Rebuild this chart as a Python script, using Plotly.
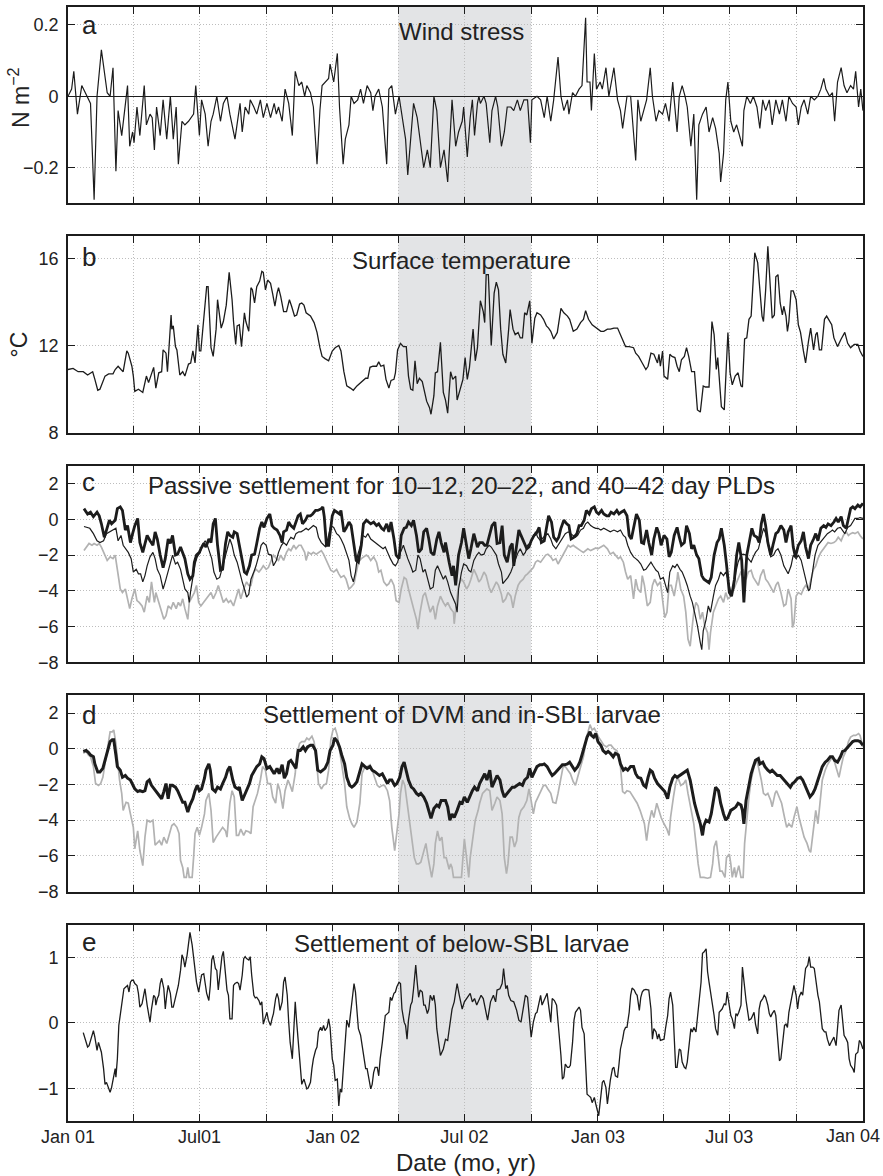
import pandas as pd
import plotly.graph_objects as go
from plotly.subplots import make_subplots

START = pd.Timestamp("2001-01-01")

# ---- data: (day since 1 Jan 2001, value) ----
wind_stress = [(0,0.0),(5,0.02),(8,0.07),(13,-0.05),(19,0.03),(26,0.0),(31,-0.02),(36,-0.29),(40,0.0),(46,0.13),(51,0.05),(54,0.01),(58,0.0),(62,0.08),(66,-0.21),(69,-0.04),(74,-0.11),(79,-0.01),(82,0.03),(85,-0.14),(89,-0.10),(91,-0.13),(95,-0.03),(99,-0.11),(105,0.03),(108,-0.08),(113,-0.05),(116,-0.06),(119,-0.15),(122,-0.03),(127,-0.11),(131,-0.01),(136,-0.12),(141,0.0),(145,-0.12),(149,-0.03),(152,-0.19),(157,-0.07),(161,-0.08),(166,-0.07),(169,-0.06),(173,-0.05),(176,0.03),(181,-0.11),(184,-0.01),(189,-0.05),(193,-0.14),(197,-0.07),(200,-0.05),(205,0.0),(210,-0.07),(214,-0.02),(219,0.0),(223,-0.05),(230,-0.12),(235,-0.04),(237,-0.02),(240,-0.10),(244,-0.03),(249,-0.05),(251,-0.01),(256,-0.03),(260,-0.05),(265,-0.01),(269,-0.06),(274,-0.02),(279,-0.06),(284,-0.02),(287,-0.05),(290,-0.03),(295,-0.07),(299,0.02),(304,-0.02),(309,-0.11),(313,0.07),(318,0.03),(322,0.04),(326,0.0),(329,0.03),(334,0.01),(338,-0.03),(343,-0.19),(347,-0.04),(350,0.03),(354,0.04),(359,0.05),(361,0.09),(366,0.04),(371,0.12),(374,-0.03),(379,-0.19),(382,-0.12),(387,-0.08),(390,0.0),(394,-0.02),(399,-0.01),(403,0.02),(407,-0.02),(412,0.03),(417,0.01),(420,-0.04),(423,0.0),(428,0.02),(433,-0.03),(439,-0.19),(442,0.02),(446,0.03),(451,-0.05),(456,0.0),(460,-0.06),(465,-0.12),(468,-0.22),(472,-0.12),(476,-0.02),(481,-0.06),(485,-0.12),(490,-0.20),(495,-0.15),(499,-0.20),(504,0.0),(508,-0.04),(513,-0.20),(518,-0.15),(523,-0.24),(529,-0.01),(534,-0.14),(538,-0.10),(543,-0.07),(545,-0.03),(550,-0.17),(554,-0.06),(557,-0.01),(560,-0.11),(564,-0.02),(566,0.0),(568,-0.02),(573,0.0),(576,-0.02),(581,-0.13),(584,-0.04),(589,0.0),(592,-0.03),(597,-0.14),(601,-0.10),(605,-0.03),(610,-0.03),(614,-0.04),(619,-0.01),(623,-0.04),(628,-0.01),(633,-0.01),(637,-0.13),(639,-0.01),(646,0.0),(651,-0.01),(656,-0.06),(660,0.0),(665,-0.07),(669,-0.01),(675,0.11),(679,0.0),(683,-0.04),(688,-0.01),(690,-0.05),(695,0.01),(699,0.0),(704,0.02),(708,0.03),(713,0.22),(715,0.04),(719,0.04),(721,-0.04),(725,0.12),(728,0.02),(733,0.04),(736,0.02),(741,0.08),(745,0.0),(752,0.08),(757,-0.01),(761,-0.04),(764,-0.09),(770,0.0),(775,0.0),(782,-0.18),(785,-0.01),(789,-0.07),(793,-0.04),(797,-0.01),(802,0.08),(805,0.0),(810,-0.07),(814,-0.04),(819,-0.05),(823,-0.02),(828,-0.07),(833,0.04),(835,-0.01),(839,-0.10),(842,0.0),(846,0.03),(850,0.0),(853,-0.03),(858,-0.14),(862,-0.05),(866,-0.29),(869,-0.08),(874,-0.05),(879,-0.03),(883,-0.10),(888,-0.06),(892,-0.09),(897,-0.16),(899,-0.24),(903,-0.16),(906,-0.01),(909,0.04),(913,-0.07),(917,-0.10),(921,-0.08),(926,-0.12),(929,-0.14),(931,-0.04),(935,0.0),(940,-0.02),(944,0.0),(949,-0.03),(953,-0.09),(957,-0.01),(961,-0.04),(966,-0.01),(970,-0.08),(975,-0.01),(980,-0.05),(984,-0.01),(989,-0.07),(993,0.0),(998,-0.02),(1003,-0.03),(1006,-0.08),(1010,-0.03),(1014,-0.01),(1019,-0.05),(1023,0.0),(1028,-0.01),(1033,0.0),(1037,0.02),(1041,0.05),(1044,0.02),(1049,0.0),(1053,0.01),(1056,-0.07),(1060,0.04),(1065,0.08),(1069,0.03),(1073,0.01),(1078,0.03),(1082,0.02),(1085,0.07),(1089,-0.03),(1092,0.02),(1095,-0.04)]

surface_temp = [(0,10.9),(7,10.95),(14,10.8),(21,10.8),(27,10.65),(34,10.8),(37,10.45),(41,9.95),(44,10.0),(51,10.6),(56,10.7),(62,10.7),(65,10.9),(69,11.05),(73,10.9),(76,10.8),(81,11.75),(83,11.65),(88,11.05),(90,10.6),(92,9.9),(97,10.0),(103,9.85),(108,10.6),(111,10.3),(114,10.6),(118,11.0),(121,10.05),(125,10.75),(129,10.8),(131,11.8),(135,11.65),(137,10.8),(142,13.4),(143,12.75),(145,12.9),(148,11.95),(150,11.8),(154,10.65),(158,10.8),(161,10.6),(166,11.15),(169,11.2),(172,11.75),(175,11.2),(179,12.95),(181,11.75),(183,11.75),(187,13.2),(189,13.95),(191,14.7),(193,14.7),(197,11.9),(200,11.5),(204,12.75),(206,14.1),(209,13.35),(211,12.8),(214,13.1),(218,13.85),(222,15.35),(226,14.1),(228,13.1),(231,12.05),(233,12.9),(236,12.95),(239,11.95),(243,13.5),(245,13.1),(249,12.65),(252,14.65),(254,14.55),(257,13.95),(260,14.7),(264,14.95),(267,15.4),(269,15.35),(272,14.55),(275,15.0),(279,14.85),(282,14.35),(285,13.8),(288,14.4),(290,14.65),(293,14.25),(297,13.55),(301,13.55),(305,14.1),(308,13.8),(312,13.35),(315,13.4),(319,13.9),(322,13.95),(325,13.85),(328,13.5),(334,13.35),(339,13.05),(343,12.6),(347,11.9),(350,11.5),(354,11.4),(359,11.3),(364,11.75),(368,11.9),(373,12.0),(376,11.75),(380,10.8),(384,10.15),(389,10.05),(393,9.95),(398,10.15),(405,10.35),(410,10.5),(413,10.5),(416,11.0),(420,11.05),(425,11.05),(428,11.25),(431,11.05),(435,11.1),(438,10.45),(442,10.05),(445,10.4),(449,10.45),(451,10.75),(454,11.8),(458,12.1),(462,11.95),(466,11.95),(469,10.6),(472,10.0),(475,9.95),(478,11.3),(481,10.25),(484,10.5),(488,10.35),(491,9.85),(494,9.45),(498,9.15),(500,8.85),(504,9.7),(506,10.75),(509,10.8),(513,12.15),(517,9.85),(520,9.5),(523,8.9),(527,10.8),(530,10.45),(534,10.6),(536,9.5),(540,10.0),(544,10.45),(547,11.45),(550,10.45),(553,11.0),(558,12.75),(561,11.3),(564,11.9),(568,14.05),(572,13.55),(574,13.05),(576,15.25),(579,15.25),(581,13.5),(583,12.0),(587,14.4),(590,14.9),(593,14.55),(596,12.75),(599,11.6),(603,11.2),(607,12.75),(609,13.65),(613,12.75),(616,12.5),(620,12.6),(623,12.35),(626,12.35),(629,13.5),(632,13.4),(634,13.7),(636,14.05),(639,12.1),(643,13.25),(646,13.5),(651,13.4),(655,13.2),(659,12.9),(662,12.8),(665,12.65),(669,12.3),(674,12.6),(679,13.7),(683,13.5),(688,13.35),(691,13.2),(696,12.65),(701,12.75),(706,13.05),(710,13.2),(713,13.6),(717,13.2),(722,12.95),(729,12.75),(734,12.65),(738,12.65),(743,12.75),(747,12.75),(752,12.8),(757,12.8),(761,12.5),(768,11.95),(773,11.95),(779,11.9),(782,11.65),(786,11.5),(791,11.2),(796,10.9),(799,11.05),(803,11.65),(807,11.6),(812,11.2),(814,11.6),(816,11.05),(819,11.75),(821,10.6),(826,10.45),(829,11.6),(832,11.5),(836,11.45),(839,11.05),(842,10.8),(845,11.35),(849,11.5),(852,11.9),(855,11.5),(859,10.8),(863,10.8),(867,9.05),(871,8.95),(875,10.15),(878,10.1),(883,10.1),(887,13.1),(890,12.5),(893,10.9),(895,11.45),(898,10.15),(900,9.2),(904,9.05),(906,10.75),(909,12.6),(912,10.75),(915,10.2),(919,10.6),(923,10.75),(927,10.15),(929,10.1),(932,12.3),(935,12.35),(938,13.2),(941,13.35),(944,15.1),(946,16.25),(950,15.8),(953,14.7),(956,13.35),(958,13.1),(961,14.55),(964,16.55),(967,14.7),(970,13.25),(973,13.4),(975,15.15),(978,15.25),(981,13.95),(984,13.4),(986,13.8),(989,13.35),(991,12.65),(993,13.1),(996,14.5),(999,14.5),(1003,14.1),(1006,12.95),(1009,12.6),(1013,11.75),(1016,11.2),(1020,12.2),(1023,12.8),(1027,11.8),(1030,12.5),(1032,12.6),(1035,11.8),(1038,11.8),(1042,13.2),(1045,13.35),(1049,13.1),(1052,12.95),(1055,12.35),(1060,11.95),(1065,12.3),(1070,12.6),(1074,12.1),(1078,11.9),(1083,12.05),(1088,12.05),(1091,11.75),(1095,11.5)]

# passive settlement, 10-12 day PLD (thick black)
passive_pld10 = [(22,0.6),(27,0.3),(31,0.4),(35,0.15),(40,0.4),(43,0.2),(46,-0.25),(50,-1.0),(53,-0.6),(57,-0.05),(60,-0.25),(65,-0.05),(68,0.6),(72,0.7),(75,0.5),(79,-0.6),(82,-0.35),(86,-1.3),(89,-0.8),(92,-0.35),(96,0.05),(99,-1.3),(103,-1.85),(106,-1.3),(109,-0.9),(113,-1.2),(117,-1.45),(120,-0.7),(123,-1.1),(127,-2.0),(131,-2.7),(134,-2.2),(138,-1.1),(141,-1.35),(144,-0.9),(148,-2.0),(151,-1.95),(155,-1.55),(158,-1.85),(161,-2.2),(165,-3.05),(168,-3.35),(172,-3.15),(174,-2.4),(177,-2.0),(181,-1.85),(183,-1.65),(187,-1.35),(190,-1.55),(194,-1.1),(197,-1.3),(200,-0.25),(203,0.05),(206,-1.45),(210,-2.85),(213,-2.8),(217,-1.35),(220,-0.7),(223,-0.9),(227,-1.0),(229,-0.7),(233,-0.8),(236,-1.45),(240,-2.2),(243,-2.95),(246,-3.05),(250,-2.6),(253,-2.0),(257,-1.95),(260,-1.35),(264,-0.5),(267,-0.15),(270,-0.45),(274,0.05),(278,0.3),(281,-0.35),(284,-0.5),(288,-0.6),(292,-0.9),(295,-1.3),(297,-0.7),(301,-0.6),(304,-0.15),(307,-0.35),(311,-0.5),(314,-0.15),(317,0.2),(320,0.3),(323,-0.25),(327,-0.05),(330,0.2),(334,0.2),(337,0.3),(341,0.5),(344,0.5),(349,0.6),(351,0.7),(353,0.15),(356,-1.45),(359,-1.45),(361,-0.8),(364,0.2),(367,0.5),(371,0.4),(374,0.3),(376,0.5),(380,-0.7),(383,-0.5),(387,-0.15),(390,-0.35),(394,-1.45),(397,-2.3),(400,-2.4),(404,-1.45),(407,-0.25),(411,-0.05),(414,-0.15),(417,-0.25),(421,-0.15),(425,-0.35),(428,-0.25),(432,-0.5),(435,-0.6),(439,-0.25),(442,-0.7),(445,-0.15),(449,-1.1),(452,-2.0),(456,-2.2),(459,-0.9),(463,-0.5),(466,-0.45),(469,-0.15),(473,-0.35),(476,-0.05),(480,-0.9),(483,-1.85),(487,-1.65),(490,-0.7),(494,-0.5),(497,-1.1),(500,-1.85),(504,-2.0),(508,-1.1),(511,-0.7),(514,-1.3),(518,-1.85),(520,-1.3),(525,-2.4),(529,-3.15),(531,-2.6),(534,-3.7),(538,-2.0),(542,-1.3),(545,-0.5),(549,-1.45),(552,-2.2),(555,-1.65),(559,-0.8),(564,-1.55),(567,-1.3),(571,-1.3),(574,-1.45),(577,-1.45),(581,-0.9),(584,-0.35),(588,-0.15),(591,-1.35),(595,-1.3),(598,-0.35),(601,-2.0),(605,-2.4),(609,-1.55),(612,-1.35),(614,-2.6),(618,-1.45),(621,-0.6),(624,-0.9),(628,-1.3),(632,-1.65),(635,-1.55),(638,-1.2),(642,-0.9),(645,-0.8),(649,-0.45),(652,-1.3),(656,-1.2),(659,-0.5),(662,0.2),(666,-0.15),(669,-1.0),(673,-1.2),(676,-1.0),(679,-0.5),(683,-0.05),(687,-0.25),(690,-0.35),(693,-1.1),(697,-1.0),(701,-0.8),(704,-0.35),(707,-0.35),(711,-0.05),(714,0.5),(718,0.3),(721,0.6),(725,0.7),(728,0.4),(731,0.3),(735,0.5),(738,0.3),(742,0.2),(745,0.2),(748,0.4),(752,0.3),(756,0.5),(759,0.3),(762,0.4),(766,0.5),(770,0.2),(773,-0.9),(776,-1.1),(780,-0.35),(783,0.3),(787,-0.05),(790,-1.3),(793,-1.35),(797,-0.6),(800,-1.3),(804,-2.0),(807,-1.1),(811,-0.45),(814,-0.8),(817,-1.45),(821,-0.9),(825,-1.1),(828,-2.1),(831,-1.85),(835,-0.9),(839,-0.45),(842,-1.0),(845,-1.45),(849,-1.3),(852,-0.35),(856,-0.8),(859,-1.65),(862,-1.45),(866,-2.0),(869,-2.2),(873,-3.15),(876,-3.35),(880,-3.45),(883,-3.55),(886,-3.25),(890,-2.0),(894,-1.3),(897,-1.1),(900,-0.5),(904,-1.45),(907,-2.5),(911,-4.1),(914,-4.3),(918,-3.35),(921,-2.0),(924,-1.3),(928,-2.3),(931,-4.65),(935,-2.0),(938,-1.3),(942,-0.5),(945,-0.9),(949,-1.0),(952,-1.3),(955,-0.25),(958,0.3),(961,-0.35),(964,-1.3),(968,-2.0),(971,-1.45),(975,-0.8),(978,-0.7),(982,-0.35),(986,-0.6),(989,-1.3),(992,-0.7),(996,-0.35),(999,-1.55),(1002,-2.1),(1006,-1.45),(1010,-1.2),(1013,-0.7),(1016,-1.55),(1020,-2.2),(1023,-1.45),(1027,-1.1),(1030,-0.8),(1033,-1.2),(1037,-0.5),(1041,-0.35),(1044,-0.45),(1047,-0.25),(1051,-0.35),(1055,-0.15),(1058,0.05),(1061,-0.15),(1065,0.15),(1068,-0.35),(1072,-0.5),(1075,0.05),(1078,0.6),(1081,0.7),(1084,0.6),(1088,0.8),(1091,0.7),(1095,0.9)]

# passive settlement, 20-22 day PLD (thin black)
passive_pld20 = [(22,-0.4),(27,-0.45),(30,-0.5),(35,-0.8),(40,-1.2),(44,-1.3),(49,-1.2),(53,-0.8),(58,-0.7),(63,-0.6),(66,-0.5),(69,-1.2),(73,-0.9),(76,-1.45),(80,-1.65),(83,-1.85),(87,-2.2),(90,-2.95),(94,-2.8),(97,-3.05),(100,-3.05),(103,-3.5),(106,-3.15),(109,-2.6),(113,-2.1),(117,-1.85),(120,-2.2),(123,-2.8),(127,-3.15),(131,-3.9),(134,-3.5),(138,-2.95),(141,-2.4),(144,-2.0),(148,-2.5),(151,-2.4),(155,-2.8),(158,-3.35),(161,-3.9),(165,-4.1),(167,-4.65),(169,-4.0),(172,-3.15),(175,-2.5),(178,-2.1),(182,-1.85),(185,-1.45),(189,-1.2),(192,-1.45),(195,-1.85),(198,-2.2),(201,-2.95),(205,-3.35),(209,-3.25),(212,-2.8),(215,-2.4),(219,-1.75),(223,-1.1),(226,-1.45),(229,-2.0),(233,-2.4),(236,-2.95),(240,-3.5),(243,-3.9),(246,-4.35),(249,-4.2),(252,-3.35),(256,-2.95),(259,-2.6),(263,-2.0),(266,-1.45),(269,-1.3),(273,-1.45),(276,-1.95),(280,-2.0),(283,-2.6),(287,-2.3),(290,-1.85),(294,-1.45),(297,-1.3),(301,-1.45),(304,-1.2),(307,-1.0),(311,-1.1),(314,-0.8),(318,-0.7),(321,-0.7),(325,-0.6),(328,-0.5),(331,-0.6),(335,-0.45),(338,-0.35),(342,-0.45),(345,-1.0),(349,-1.3),(352,-1.45),(355,-1.55),(359,-0.9),(362,-0.35),(366,-0.45),(370,-0.8),(373,-0.9),(376,-1.1),(380,-1.45),(383,-1.85),(387,-2.3),(390,-3.15),(393,-3.5),(396,-2.95),(399,-2.0),(403,-1.45),(406,-0.9),(410,-1.0),(413,-0.8),(417,-1.1),(420,-1.2),(423,-1.3),(427,-1.45),(430,-1.55),(434,-1.65),(437,-1.55),(440,-1.85),(444,-2.2),(448,-2.5),(451,-2.6),(454,-2.4),(458,-1.85),(462,-1.45),(465,-1.85),(468,-2.2),(472,-2.6),(475,-2.95),(479,-2.85),(482,-2.0),(485,-2.2),(489,-2.95),(492,-2.8),(496,-3.35),(499,-3.9),(503,-3.8),(506,-2.85),(509,-2.6),(513,-2.95),(517,-3.35),(520,-3.15),(523,-3.5),(527,-4.1),(531,-4.45),(534,-4.75),(536,-5.2),(538,-3.9),(542,-2.95),(545,-2.5),(549,-2.6),(552,-2.85),(555,-2.95),(559,-2.3),(563,-2.0),(566,-1.85),(569,-2.0),(573,-1.95),(576,-1.65),(580,-1.45),(583,-1.55),(587,-1.85),(590,-2.0),(593,-2.5),(597,-2.95),(599,-3.6),(603,-3.4),(606,-3.25),(610,-2.95),(613,-2.6),(616,-2.2),(620,-1.85),(623,-1.65),(627,-2.0),(630,-1.85),(633,-1.45),(637,-1.3),(641,-1.0),(644,-0.7),(647,-1.0),(651,-1.2),(655,-1.0),(658,-0.9),(661,-0.8),(665,-1.1),(668,-1.45),(672,-1.65),(675,-1.45),(679,-1.2),(682,-1.0),(685,-0.8),(689,-0.7),(692,-0.8),(696,-0.9),(699,-1.0),(702,-0.9),(706,-0.6),(710,-0.5),(713,-0.25),(716,-0.15),(720,-0.35),(724,-0.45),(727,-0.5),(730,-0.5),(734,-0.6),(738,-0.5),(743,-0.6),(747,-0.7),(752,-0.6),(757,-0.7),(761,-0.6),(765,-0.9),(768,-1.0),(771,-1.45),(775,-1.85),(779,-2.1),(782,-2.2),(785,-2.3),(789,-2.5),(793,-2.85),(796,-2.8),(799,-2.6),(803,-2.4),(806,-2.6),(810,-2.85),(813,-2.95),(816,-3.35),(820,-3.25),(823,-3.7),(826,-4.1),(829,-2.95),(833,-2.6),(836,-2.7),(839,-2.5),(843,-2.8),(846,-2.95),(850,-3.35),(853,-3.7),(857,-4.3),(860,-4.65),(863,-5.2),(867,-5.95),(871,-6.9),(873,-7.3),(875,-6.25),(879,-5.6),(882,-4.85),(885,-5.2),(889,-4.3),(892,-3.7),(896,-3.35),(899,-2.95),(903,-3.15),(906,-2.95),(909,-3.35),(913,-4.1),(917,-3.9),(920,-2.95),(923,-2.4),(927,-2.0),(930,-1.95),(934,-2.0),(937,-2.2),(941,-2.4),(944,-2.1),(947,-1.85),(951,-1.65),(954,-1.1),(958,-0.5),(961,-0.8),(964,-1.45),(968,-2.1),(972,-2.0),(975,-1.75),(978,-1.65),(982,-2.0),(986,-2.6),(989,-2.85),(992,-3.05),(996,-2.6),(999,-2.0),(1003,-2.2),(1006,-2.0),(1010,-2.3),(1013,-2.8),(1016,-3.35),(1020,-4.0),(1022,-3.9),(1026,-2.95),(1029,-2.0),(1033,-1.45),(1036,-1.3),(1039,-1.1),(1043,-0.9),(1046,-0.8),(1050,-0.7),(1053,-0.6),(1056,-0.7),(1060,-0.5),(1064,-0.45),(1067,-0.6),(1070,-0.8),(1074,-0.45),(1078,-0.35),(1081,-0.15),(1084,0.05),(1088,0.05),(1091,0.1),(1095,0.05)]

# passive settlement, 40-42 day PLD (grey)
passive_pld40 = [(22,-1.75),(26,-1.55),(29,-1.35),(33,-1.45),(36,-1.35),(40,-1.45),(43,-1.35),(46,-1.55),(51,-2.0),(54,-2.3),(58,-2.1),(62,-2.2),(65,-2.0),(68,-2.95),(72,-3.9),(75,-4.1),(79,-3.9),(82,-4.45),(85,-5.0),(88,-4.45),(92,-3.9),(95,-4.55),(98,-4.65),(102,-4.85),(105,-5.2),(109,-4.3),(112,-4.65),(115,-3.5),(119,-4.65),(121,-4.1),(125,-4.65),(128,-5.0),(132,-5.6),(135,-5.4),(138,-4.85),(142,-5.0),(145,-4.65),(149,-5.0),(152,-4.65),(155,-4.85),(158,-4.45),(161,-5.0),(165,-5.6),(167,-4.65),(171,-4.3),(174,-4.1),(177,-3.7),(180,-4.65),(183,-4.85),(187,-4.65),(190,-4.45),(194,-4.3),(197,-4.1),(200,-4.45),(204,-4.1),(207,-3.7),(211,-4.3),(214,-4.65),(218,-4.45),(221,-4.65),(224,-4.55),(228,-4.85),(232,-4.3),(235,-3.9),(238,-4.45),(242,-3.9),(246,-3.5),(249,-3.7),(252,-3.7),(256,-2.95),(259,-2.8),(263,-2.95),(266,-2.8),(269,-2.6),(273,-2.8),(276,-2.7),(280,-2.3),(283,-2.0),(287,-2.2),(290,-2.3),(293,-2.0),(297,-2.3),(301,-1.85),(304,-1.65),(307,-1.75),(311,-1.45),(314,-1.65),(318,-1.45),(321,-1.45),(326,-1.85),(328,-2.3),(331,-1.85),(335,-1.95),(338,-1.85),(342,-1.95),(345,-1.85),(349,-1.75),(352,-1.95),(356,-2.3),(359,-2.6),(362,-2.85),(366,-2.95),(370,-2.8),(373,-3.05),(376,-3.25),(380,-3.15),(383,-3.35),(387,-3.9),(390,-3.8),(394,-3.6),(397,-2.95),(400,-2.4),(404,-2.2),(407,-2.1),(411,-2.0),(414,-2.1),(417,-2.3),(421,-2.1),(425,-2.4),(428,-2.95),(431,-2.85),(435,-3.5),(439,-3.7),(442,-3.6),(445,-3.35),(449,-3.7),(452,-4.55),(456,-4.65),(459,-3.9),(463,-3.25),(466,-3.35),(469,-3.9),(473,-4.45),(476,-5.0),(480,-5.6),(482,-6.15),(485,-5.2),(489,-4.3),(492,-4.1),(496,-4.65),(499,-5.2),(503,-4.85),(506,-5.6),(509,-4.85),(513,-4.3),(517,-4.65),(520,-4.85),(523,-4.65),(527,-5.0),(531,-5.2),(532,-5.85),(535,-4.65),(538,-3.7),(542,-3.35),(545,-3.5),(549,-3.9),(552,-3.7),(555,-3.35),(559,-2.8),(563,-3.15),(566,-3.5),(569,-3.35),(573,-2.95),(576,-3.15),(580,-3.8),(583,-4.1),(587,-3.7),(590,-3.5),(593,-3.7),(597,-4.2),(599,-4.65),(603,-4.45),(606,-4.1),(610,-4.3),(613,-4.95),(616,-4.3),(620,-3.7),(623,-3.5),(627,-3.35),(630,-3.15),(633,-3.05),(637,-2.85),(641,-2.7),(644,-2.4),(647,-2.3),(651,-2.4),(655,-2.2),(658,-2.0),(661,-1.95),(665,-2.1),(668,-2.3),(672,-2.2),(675,-2.5),(679,-2.2),(682,-1.95),(685,-1.75),(689,-1.45),(692,-1.55),(696,-1.45),(699,-1.55),(702,-1.65),(706,-1.75),(710,-1.85),(713,-1.75),(716,-1.65),(720,-1.75),(724,-1.65),(727,-1.6),(730,-1.65),(734,-1.55),(738,-1.45),(743,-1.65),(747,-1.95),(751,-1.85),(754,-2.0),(758,-2.2),(761,-2.1),(765,-2.4),(768,-2.95),(771,-3.35),(775,-3.15),(779,-4.45),(782,-3.35),(785,-3.9),(789,-4.1),(791,-3.15),(794,-3.7),(798,-4.85),(802,-4.65),(805,-3.7),(808,-3.35),(812,-3.7),(816,-3.5),(819,-4.65),(822,-5.5),(825,-5.2),(828,-3.7),(831,-3.7),(835,-4.3),(839,-3.35),(840,-2.95),(844,-3.9),(848,-4.3),(851,-5.2),(854,-6.7),(857,-7.1),(859,-6.15),(862,-5.2),(865,-4.65),(868,-4.85),(871,-5.6),(874,-5.2),(877,-5.95),(881,-6.35),(883,-7.3),(885,-6.35),(889,-5.2),(892,-4.85),(896,-4.45),(899,-4.3),(903,-4.65),(906,-4.1),(909,-4.45),(913,-4.3),(917,-3.9),(920,-3.7),(923,-3.35),(927,-2.95),(930,-2.8),(934,-3.35),(937,-2.95),(941,-2.85),(944,-3.25),(947,-3.45),(951,-3.7),(954,-3.15),(958,-2.8),(961,-3.35),(964,-3.5),(968,-3.8),(972,-4.1),(975,-3.7),(978,-3.5),(982,-4.1),(986,-4.85),(989,-4.75),(992,-3.9),(996,-4.45),(998,-6.05),(1000,-5.8),(1003,-4.3),(1006,-4.1),(1010,-4.2),(1013,-3.9),(1016,-3.7),(1020,-3.9),(1023,-3.35),(1027,-2.8),(1030,-2.6),(1033,-2.2),(1037,-1.85),(1041,-1.65),(1044,-1.45),(1047,-1.3),(1051,-1.35),(1055,-1.3),(1058,-1.2),(1061,-1.0),(1065,-1.2),(1068,-0.9),(1072,-0.7),(1075,-0.9),(1078,-0.8),(1081,-0.75),(1084,-0.8),(1088,-0.7),(1091,-0.9),(1095,-1.1)]

# DVM larvae (thick black)
dvm_larvae = [(21,-0.15),(25,-0.1),(28,-0.2),(31,-0.35),(35,-0.45),(37,-0.85),(41,-1.3),(44,-1.3),(48,-1.1),(51,-0.65),(54,-0.1),(58,0.4),(61,0.5),(63,0.5),(66,-0.35),(68,-1.0),(72,-1.2),(75,-1.6),(79,-1.5),(82,-1.65),(86,-1.75),(89,-2.05),(92,-2.25),(96,-2.4),(99,-2.35),(103,-2.4),(106,-2.35),(109,-1.85),(112,-1.75),(115,-2.05),(119,-2.25),(122,-2.4),(126,-2.6),(129,-2.8),(132,-2.4),(135,-1.95),(138,-2.8),(141,-2.05),(144,-2.05),(148,-2.15),(151,-2.35),(155,-2.7),(158,-3.0),(161,-3.0),(165,-3.55),(168,-3.15),(172,-2.8),(175,-2.35),(178,-2.05),(181,-2.35),(184,-2.25),(188,-1.65),(190,-1.2),(194,-0.85),(196,-1.2),(199,-2.25),(203,-2.4),(206,-2.15),(210,-2.25),(213,-1.95),(217,-1.6),(220,-1.2),(223,-1.0),(227,-1.75),(230,-2.15),(234,-2.25),(236,-2.15),(240,-2.9),(243,-2.6),(246,-2.4),(250,-1.95),(253,-1.5),(257,-1.2),(260,-1.0),(264,-0.85),(267,-0.45),(270,-0.55),(274,-1.1),(278,-1.0),(281,-1.2),(284,-1.4),(288,-1.1),(291,-1.4),(295,-0.9),(298,-1.65),(301,-1.4),(304,-0.75),(307,-0.65),(311,-0.9),(314,-1.1),(317,-0.1),(320,-0.1),(324,0.1),(327,-0.1),(330,0.1),(334,0.2),(337,0.2),(341,-0.1),(344,-1.2),(348,-1.3),(351,-1.2),(354,-1.1),(358,-0.75),(361,-0.1),(365,0.2),(367,0.6),(371,0.4),(374,0.1),(377,-0.35),(381,-0.85),(384,-1.6),(388,-2.05),(391,-2.15),(394,-2.05),(398,-1.85),(402,-1.2),(405,-0.85),(409,-1.0),(412,-1.1),(416,-1.0),(419,-1.2),(423,-1.3),(426,-1.4),(429,-1.5),(433,-1.4),(436,-1.65),(440,-1.95),(443,-1.75),(446,-1.75),(450,-2.05),(453,-1.95),(457,-1.6),(460,-1.0),(463,-0.75),(466,-1.2),(469,-1.75),(473,-2.15),(476,-2.25),(480,-2.5),(483,-2.6),(486,-2.5),(490,-2.7),(494,-3.05),(497,-3.45),(500,-3.9),(504,-3.35),(508,-3.15),(511,-3.25),(514,-2.9),(517,-2.9),(520,-2.9),(523,-3.25),(526,-4.0),(529,-3.65),(532,-3.85),(536,-3.45),(540,-3.0),(543,-3.05),(546,-2.7),(550,-3.0),(554,-2.6),(557,-2.35),(560,-2.15),(564,-2.35),(567,-1.95),(571,-1.6),(574,-1.4),(577,-1.75),(581,-1.2),(584,-2.15),(588,-1.75),(591,-1.5),(595,-1.75),(598,-2.35),(601,-2.7),(605,-2.5),(609,-2.25),(612,-2.15),(615,-2.15),(619,-2.05),(622,-1.95),(626,-2.05),(629,-1.75),(633,-1.6),(636,-1.1),(639,-1.6),(643,-1.3),(646,-1.0),(650,-0.9),(653,-0.9),(656,-0.85),(660,-1.0),(664,-1.3),(667,-1.5),(670,-1.4),(674,-1.2),(678,-1.0),(681,-0.9),(684,-0.9),(688,-0.85),(691,-0.75),(695,-1.0),(698,-1.2),(702,-1.0),(705,-0.75),(708,-0.35),(712,0.2),(715,0.65),(719,0.95),(721,0.75),(724,0.65),(727,0.85),(730,0.4),(734,0.2),(737,-0.1),(741,-0.25),(744,-0.15),(747,-0.25),(751,-0.45),(754,-0.25),(758,-0.35),(761,-0.85),(765,-1.2),(768,-1.1),(771,-1.2),(775,-1.0),(779,-1.0),(782,-1.4),(785,-1.6),(789,-1.65),(793,-2.05),(796,-2.15),(799,-1.6),(802,-1.2),(805,-1.3),(808,-1.65),(812,-1.95),(816,-2.15),(819,-2.25),(822,-2.4),(826,-2.8),(829,-2.15),(833,-1.65),(836,-1.5),(839,-1.6),(843,-1.5),(846,-1.4),(850,-1.3),(853,-1.2),(857,-1.75),(860,-2.5),(863,-3.05),(867,-3.65),(871,-4.2),(874,-4.85),(876,-4.3),(879,-4.0),(883,-4.1),(886,-3.65),(889,-2.9),(892,-2.15),(896,-2.35),(899,-3.05),(903,-3.65),(906,-4.0),(909,-3.85),(913,-3.45),(917,-3.35),(920,-3.25),(923,-3.05),(927,-3.15),(929,-3.45),(931,-4.2),(934,-2.9),(937,-2.15),(941,-1.4),(944,-1.0),(947,-0.65),(951,-0.55),(953,-0.85),(957,-0.75),(960,-1.0),(964,-1.2),(967,-1.3),(970,-1.2),(974,-1.4),(977,-1.5),(981,-1.5),(984,-1.65),(987,-1.75),(991,-1.95),(995,-2.15),(998,-1.95),(1001,-1.85),(1005,-1.65),(1009,-1.6),(1012,-1.75),(1015,-2.05),(1019,-2.5),(1022,-2.7),(1026,-2.5),(1029,-2.25),(1033,-1.75),(1036,-1.4),(1039,-1.0),(1043,-0.75),(1046,-0.65),(1050,-0.45),(1053,-0.45),(1056,-0.65),(1060,-0.75),(1064,-0.45),(1067,-0.15),(1070,-0.1),(1074,0.1),(1078,0.3),(1081,0.4),(1084,0.45),(1088,0.45),(1091,0.4),(1095,0.2)]

# in-SBL larvae (grey)
in_sbl_larvae = [(21,-0.25),(25,-0.15),(28,-0.35),(31,-0.45),(35,-1.0),(38,-1.95),(42,-2.05),(45,-1.95),(48,-1.6),(51,-0.85),(54,0.1),(58,0.95),(61,0.95),(63,1.05),(66,0.3),(68,-0.65),(71,-1.75),(74,-2.5),(76,-3.45),(80,-3.0),(83,-3.05),(86,-3.65),(90,-4.4),(92,-5.6),(96,-4.6),(99,-5.7),(103,-6.55),(106,-4.95),(109,-4.0),(113,-4.1),(117,-4.0),(120,-5.4),(123,-5.3),(126,-5.15),(129,-5.4),(132,-4.95),(136,-5.3),(140,-4.75),(143,-4.3),(146,-4.2),(150,-4.4),(153,-4.75),(155,-6.25),(158,-6.65),(160,-7.2),(163,-7.2),(165,-6.65),(167,-7.2),(171,-7.2),(173,-6.1),(175,-4.75),(178,-4.4),(181,-4.85),(184,-4.4),(188,-3.65),(190,-2.9),(194,-2.5),(197,-3.45),(200,-5.25),(204,-4.95),(207,-4.75),(211,-4.5),(213,-4.4),(217,-4.6),(219,-4.95),(223,-3.05),(226,-2.35),(229,-2.7),(232,-4.85),(235,-4.85),(238,-4.5),(242,-4.85),(245,-4.6),(249,-4.65),(252,-4.75),(255,-3.25),(258,-2.9),(261,-2.5),(265,-1.75),(268,-1.0),(272,-1.2),(275,-1.95),(279,-1.95),(282,-2.7),(286,-3.05),(289,-1.95),(292,-2.35),(296,-3.35),(299,-2.35),(303,-1.75),(306,-2.05),(309,-2.4),(313,-1.4),(315,-0.35),(319,0.3),(322,0.4),(326,0.4),(329,0.6),(332,0.5),(336,0.7),(339,0.4),(342,-0.55),(345,-1.95),(349,-2.25),(352,-2.05),(356,-1.95),(359,-1.2),(362,0.5),(365,1.05),(368,1.15),(371,0.75),(374,0.0),(377,-1.0),(381,-1.95),(384,-3.25),(388,-3.9),(391,-4.2),(394,-4.4),(398,-4.1),(402,-3.05),(405,-1.4),(409,-1.0),(412,-1.0),(416,-0.9),(419,-1.2),(422,-1.6),(426,-2.05),(429,-2.15),(433,-2.05),(436,-2.05),(440,-2.35),(443,-2.9),(446,-4.4),(450,-5.7),(452,-4.95),(456,-3.65),(458,-2.5),(461,-1.75),(464,-2.05),(467,-3.05),(471,-4.2),(474,-5.15),(477,-6.1),(480,-6.45),(483,-6.45),(486,-6.35),(490,-5.8),(493,-5.3),(496,-6.1),(498,-6.55),(501,-7.2),(504,-6.45),(506,-5.3),(509,-4.6),(512,-5.15),(515,-4.95),(518,-6.1),(521,-6.1),(525,-6.75),(527,-6.45),(529,-6.65),(531,-7.2),(535,-7.2),(538,-7.2),(542,-7.2),(544,-6.1),(546,-5.05),(549,-6.1),(552,-7.2),(554,-6.1),(558,-4.95),(561,-4.0),(565,-3.45),(567,-3.05),(571,-2.5),(574,-2.35),(577,-2.25),(581,-2.35),(584,-3.45),(588,-3.05),(591,-2.7),(595,-2.9),(598,-3.65),(601,-6.1),(604,-7.0),(606,-6.45),(609,-4.95),(612,-4.95),(615,-5.5),(618,-5.15),(621,-3.85),(624,-3.45),(628,-3.25),(632,-2.9),(635,-2.25),(638,-2.9),(641,-3.65),(644,-3.0),(647,-2.7),(651,-2.4),(655,-2.05),(658,-2.05),(661,-2.25),(665,-2.5),(668,-3.0),(672,-3.05),(675,-2.5),(679,-1.6),(682,-1.0),(685,-1.0),(689,-1.2),(692,-1.4),(696,-1.85),(699,-2.05),(702,-1.6),(706,-1.0),(710,-0.45),(713,0.3),(715,0.75),(719,1.35),(722,1.05),(725,1.15),(728,0.85),(731,0.65),(735,0.4),(738,0.2),(742,0.1),(745,0.2),(748,0.2),(752,0.0),(756,-0.1),(759,-0.45),(761,-1.0),(764,-2.4),(767,-2.5),(770,-2.35),(774,-2.4),(777,-2.6),(781,-2.8),(784,-3.05),(788,-3.45),(791,-3.85),(794,-4.2),(797,-5.15),(800,-4.2),(804,-3.45),(807,-3.85),(811,-3.05),(814,-3.45),(817,-3.85),(821,-4.2),(825,-4.5),(828,-4.85),(830,-3.85),(834,-2.7),(837,-1.95),(840,-1.6),(844,-2.05),(848,-1.95),(851,-1.75),(854,-2.5),(858,-3.45),(862,-4.2),(865,-5.3),(868,-6.45),(871,-7.2),(876,-7.2),(881,-7.25),(885,-7.2),(888,-6.45),(890,-5.5),(893,-5.15),(896,-6.1),(898,-6.85),(901,-6.85),(905,-7.2),(907,-6.1),(911,-5.9),(913,-6.45),(915,-7.2),(918,-6.65),(920,-7.2),(922,-6.85),(924,-6.55),(927,-7.2),(930,-7.2),(932,-5.3),(935,-3.85),(938,-2.7),(941,-1.75),(945,-1.0),(949,-0.65),(952,-1.2),(955,-1.75),(958,-2.5),(961,-2.6),(964,-2.5),(968,-2.9),(970,-3.25),(974,-2.5),(976,-2.35),(980,-2.8),(983,-3.05),(987,-3.85),(990,-4.4),(993,-4.2),(997,-4.4),(1000,-3.85),(1004,-3.25),(1007,-3.85),(1010,-4.4),(1014,-4.95),(1018,-5.3),(1021,-5.7),(1023,-5.8),(1027,-4.4),(1030,-3.45),(1033,-4.2),(1036,-2.9),(1039,-1.75),(1043,-1.2),(1046,-0.9),(1050,-0.65),(1053,-0.45),(1056,-0.75),(1059,-1.2),(1062,-1.6),(1065,-1.0),(1068,-0.45),(1072,-0.1),(1075,0.4),(1078,0.65),(1082,0.75),(1085,0.75),(1089,0.85),(1091,0.75),(1095,0.1)]

below_sbl_larvae = [(21,-0.15),(24,-0.25),(27,-0.37),(29,-0.35),(32,-0.22),(35,-0.12),(37,-0.22),(40,-0.42),(42,-0.3),(44,-0.4),(46,-0.45),(49,-0.7),(51,-0.94),(53,-0.91),(56,-0.99),(58,-1.06),(60,-0.99),(63,-0.83),(65,-0.7),(66,-0.83),(68,-0.55),(70,-0.04),(73,0.21),(75,0.42),(77,0.52),(80,0.55),(82,0.57),(84,0.47),(86,0.62),(88,0.65),(90,0.65),(92,0.6),(95,0.57),(97,0.45),(99,0.24),(102,0.29),(104,0.42),(106,0.52),(109,0.27),(111,0.14),(113,0.01),(115,0.21),(118,0.42),(120,0.39),(121,0.27),(123,0.37),(125,0.42),(127,0.6),(129,0.68),(132,0.52),(134,0.21),(136,0.42),(138,0.57),(141,0.45),(143,0.24),(145,0.24),(148,0.39),(150,0.47),(152,0.57),(155,0.8),(157,1.04),(159,0.98),(161,0.85),(164,1.03),(166,1.21),(168,1.38),(171,1.19),(173,1.01),(175,0.83),(177,0.62),(180,0.47),(182,0.6),(184,0.73),(187,0.75),(189,0.55),(191,0.45),(194,0.34),(196,0.57),(198,0.96),(200,1.03),(203,0.83),(205,0.8),(207,0.5),(210,0.8),(212,1.01),(214,1.09),(217,0.68),(219,0.5),(221,0.42),(223,0.06),(226,0.06),(228,0.57),(230,0.6),(233,0.62),(235,0.6),(237,0.5),(240,0.73),(242,0.98),(244,1.01),(246,0.98),(249,0.96),(251,1.01),(253,0.73),(256,0.42),(258,0.38),(260,0.39),(263,0.34),(265,0.27),(267,0.32),(269,-0.02),(272,0.09),(274,0.16),(276,0.04),(279,-0.04),(281,0.06),(283,0.14),(286,0.37),(288,0.45),(290,0.37),(292,0.19),(295,0.32),(297,0.62),(299,0.7),(302,0.42),(304,0.01),(306,-0.3),(309,-0.55),(311,0.01),(313,0.32),(315,0.01),(318,-0.4),(320,-0.76),(322,-0.94),(325,-0.86),(327,-0.96),(329,-1.01),(331,-0.99),(334,-0.91),(336,-0.7),(338,-0.55),(341,-0.42),(343,-0.37),(345,-0.14),(348,-0.07),(350,-0.12),(352,-0.04),(354,-0.12),(357,-0.07),(359,0.06),(361,-0.07),(364,-0.55),(366,-0.65),(368,-0.88),(371,-0.86),(373,-1.27),(375,-1.01),(377,-1.06),(380,-0.6),(382,-0.3),(384,0.04),(387,-0.07),(389,0.11),(391,0.32),(394,0.6),(396,0.47),(398,0.21),(400,-0.09),(403,-0.19),(405,-0.35),(407,-0.5),(410,-0.7),(412,-0.7),(414,-0.83),(417,-1.01),(419,-0.94),(421,-0.76),(423,-0.68),(426,-0.68),(428,-0.81),(430,-0.55),(433,-0.3),(435,-0.07),(437,0.11),(440,0.14),(442,0.16),(444,0.39),(446,0.34),(449,0.45),(451,0.47),(453,0.55),(456,0.62),(458,0.6),(460,0.21),(463,0.01),(465,-0.04),(467,-0.25),(469,0.04),(472,0.27),(474,0.32),(476,0.52),(479,0.88),(481,0.62),(483,0.39),(485,0.5),(488,0.47),(490,0.27),(492,0.27),(495,0.14),(497,0.21),(499,0.42),(502,0.34),(504,0.42),(506,0.27),(508,-0.09),(511,-0.35),(513,-0.5),(517,-0.4),(520,-0.25),(523,-0.27),(526,-0.04),(529,0.21),(532,0.32),(536,0.6),(539,0.42),(543,0.21),(546,0.32),(550,0.39),(554,0.45),(557,0.32),(560,0.37),(563,0.27),(566,0.34),(569,0.42),(572,0.37),(575,0.21),(578,0.04),(582,0.32),(586,0.42),(589,0.32),(591,0.5),(595,0.52),(598,0.6),(600,0.83),(603,0.52),(605,0.57),(607,0.42),(610,0.34),(614,0.32),(618,0.19),(621,0.04),(624,0.01),(628,0.27),(630,0.42),(633,0.39),(636,0.06),(638,-0.22),(641,0.01),(644,0.14),(646,0.16),(649,0.34),(651,0.42),(653,0.27),(656,0.34),(658,0.39),(660,0.45),(662,0.27),(665,0.01),(667,0.37),(670,0.34),(673,0.27),(676,-0.07),(679,-0.5),(681,-0.86),(683,-0.83),(685,-0.63),(688,-0.68),(690,-0.68),(692,-0.65),(695,-0.3),(697,0.04),(699,0.16),(702,0.21),(704,0.24),(706,0.19),(708,-0.07),(711,-0.17),(713,-0.58),(715,-1.09),(718,-1.12),(720,-1.14),(722,-1.22),(725,-1.14),(727,-1.24),(729,-1.32),(731,-1.42),(734,-1.12),(736,-0.91),(738,-0.88),(741,-0.99),(743,-1.24),(745,-1.01),(747,-0.88),(750,-0.7),(752,-0.68),(754,-0.81),(757,-0.83),(759,-0.63),(761,-0.4),(764,-0.25),(766,-0.12),(768,-0.07),(770,-0.07),(773,0.16),(775,0.42),(777,0.53),(780,0.5),(782,0.45),(784,0.42),(787,0.19),(789,0.39),(791,0.47),(793,0.5),(796,0.51),(798,0.51),(800,0.5),(803,0.21),(805,-0.25),(807,-0.09),(810,-0.14),(812,-0.25),(814,-0.17),(816,-0.27),(819,-0.25),(821,-0.25),(823,-0.09),(826,0.11),(828,0.37),(830,0.47),(833,0.27),(835,-0.3),(837,-0.68),(839,-0.68),(842,-0.4),(844,-0.42),(846,-0.6),(849,-0.68),(851,-0.7),(853,-0.6),(856,-0.25),(858,-0.09),(860,-0.14),(862,-0.07),(865,-0.14),(867,0.11),(869,0.37),(872,0.62),(874,1.06),(876,1.08),(879,1.13),(881,0.78),(883,0.62),(885,0.47),(888,0.32),(890,0.11),(892,-0.09),(895,-0.19),(897,0.16),(899,0.19),(901,0.21),(904,0.29),(906,0.27),(908,0.47),(911,0.24),(913,0.11),(915,0.06),(918,-0.09),(920,0.14),(922,0.11),(924,0.16),(927,0.27),(929,0.85),(931,0.62),(934,0.34),(936,0.19),(938,0.04),(941,0.06),(943,0.11),(945,0.16),(947,-0.02),(950,-0.17),(952,0.21),(954,0.32),(957,0.37),(959,0.42),(961,0.39),(964,0.27),(966,0.14),(968,0.09),(970,0.14),(973,0.19),(975,0.11),(977,-0.14),(980,-0.58),(982,-0.55),(984,-0.35),(987,-0.04),(989,-0.02),(991,-0.07),(993,0.16),(996,0.32),(998,0.45),(1000,0.57),(1003,0.42),(1005,0.21),(1007,0.39),(1010,0.47),(1012,0.42),(1014,0.6),(1016,0.83),(1019,0.88),(1021,1.01),(1023,0.85),(1026,0.85),(1028,0.83),(1030,0.65),(1033,0.42),(1035,0.32),(1037,0.11),(1039,-0.09),(1042,-0.14),(1044,-0.14),(1046,-0.25),(1049,-0.35),(1051,-0.3),(1053,-0.25),(1055,-0.22),(1058,-0.35),(1060,0.01),(1062,0.19),(1065,0.27),(1067,0.01),(1069,-0.19),(1072,-0.25),(1074,-0.3),(1076,-0.55),(1078,-0.65),(1081,-0.7),(1083,-0.76),(1085,-0.48),(1088,-0.45),(1090,-0.27),(1092,-0.3),(1095,-0.4)]

# labelled ticks every six months, minor ticks every three months
label_dates = ["2001-01-01", "2001-07-01", "2002-01-01", "2002-07-01",
               "2003-01-01", "2003-07-01"]
label_texts = ["Jan 01", "Jul01", "Jan 02", "Jul 02", "Jan 03", "Jul 03"]
end_label = ("2004-01-01", "Jan 04")
shade_period = ("2002-04-01", "2002-10-01")

panel_letters = ["a", "b", "c", "d", "e"]
panel_titles = ["Wind stress", "Surface temperature",
                "Passive settlement for 10\u201312, 20\u201322, and 40\u201342 day PLDs",
                "Settlement of DVM and in-SBL larvae",
                "Settlement of below-SBL larvae"]


def to_xy(series):
    days = [d for d, _ in series]
    vals = [v for _, v in series]
    return START + pd.to_timedelta(days, unit="D"), vals


FONT = "Liberation Sans, Arial, Helvetica, sans-serif"
INK = "#1c1c1c"
GREY = "#b2b2b2"
GRID = "#bdbdbd"

fig = make_subplots(rows=5, cols=1, vertical_spacing=0.0296)

traces = [
    (1, wind_stress, INK, 1.2),
    (2, surface_temp, INK, 1.3),
    (3, passive_pld40, GREY, 1.7),
    (3, passive_pld20, INK, 1.2),
    (3, passive_pld10, INK, 2.8),
    (4, in_sbl_larvae, GREY, 1.7),
    (4, dvm_larvae, INK, 3.0),
    (5, below_sbl_larvae, INK, 1.3),
]
for row, series, color, width in traces:
    x, y = to_xy(series)
    fig.add_trace(go.Scatter(x=x, y=y, mode="lines", showlegend=False,
                             line=dict(color=color, width=width)),
                  row=row, col=1)

for row in range(1, 6):
    fig.add_vrect(x0=shade_period[0], x1=shade_period[1], fillcolor="#e3e4e6",
                  line_width=0, layer="below", row=row, col=1)

axis_style = dict(showline=True, linecolor=INK, linewidth=1.8, mirror="ticks",
                  ticks="inside", ticklen=7, tickwidth=1.1, tickcolor=INK,
                  showgrid=True, gridcolor=GRID, gridwidth=1,
                  griddash="1px,2px", automargin=False,
                  tickfont=dict(family=FONT, size=18, color="#222"))

x_end = pd.Timestamp("2004-01-01 02:00")
y_ranges = [(-0.3, 0.25), (8, 17), (-8, 3), (-8, 3), (-1.5, 1.5)]
y_dticks = [0.2, 4, 2, 2, 1]
for row in range(1, 6):
    fig.update_xaxes(type="date", range=[START, x_end],
                     tickmode="array", tickvals=label_dates,
                     ticktext=label_texts, showticklabels=(row == 5),
                     ticklabelstandoff=-2,
                     minor=dict(tick0="2001-01-01", dtick="M3", ticks="inside",
                                ticklen=7, tickwidth=1.1, tickcolor=INK,
                                showgrid=True, gridcolor=GRID, gridwidth=1,
                                griddash="1px,2px"),
                     zeroline=False, row=row, col=1, **axis_style)
    fig.update_yaxes(range=list(y_ranges[row - 1]), tickmode="linear", tick0=0,
                     dtick=y_dticks[row - 1], ticklabelstandoff=4,
                     zeroline=(row == 1), zerolinecolor=INK, zerolinewidth=1.3,
                     row=row, col=1, **axis_style)

# panel letters and titles
letter_y = [0.910, 0.895, 0.918, 0.900, 0.913]
title_y = [0.874, 0.878, 0.898, 0.900, 0.903]
annotations = []
for i in range(5):
    yref = "y domain" if i == 0 else f"y{i + 1} domain"
    xref = "x domain" if i == 0 else f"x{i + 1} domain"
    annotations.append(dict(text=panel_letters[i], xref=xref, yref=yref,
                            x=0.015, y=letter_y[i], xanchor="left",
                            yanchor="middle", showarrow=False,
                            font=dict(family=FONT, size=26, color="#222")))
    annotations.append(dict(text=panel_titles[i], xref=xref, yref=yref,
                            x=0.495, y=title_y[i], xanchor="center",
                            yanchor="middle", showarrow=False,
                            font=dict(family=FONT, size=24, color="#222")))

# last date label, kept inside the figure edge
annotations.append(dict(text=end_label[1], xref="x5", yref="paper",
                        x=end_label[0], y=-0.0135, xanchor="right",
                        yanchor="middle", xshift=19, showarrow=False,
                        font=dict(family=FONT, size=18, color="#222")))

annotations.append(dict(text="N m<sup>\u22122</sup>", xref="paper", yref="y domain",
                        x=-0.0623, y=0.539, xanchor="center", yanchor="middle",
                        textangle=-90, showarrow=False,
                        font=dict(family=FONT, size=23, color="#222")))
annotations.append(dict(text="\u00b0C", xref="paper", yref="y2 domain",
                        x=-0.0616, y=0.45, xanchor="center", yanchor="middle",
                        textangle=-90, showarrow=False,
                        font=dict(family=FONT, size=23, color="#222")))
annotations.append(dict(text="Date (mo, yr)", xref="paper", yref="paper",
                        x=0.5, y=-0.0377, xanchor="center", yanchor="middle",
                        showarrow=False,
                        font=dict(family=FONT, size=24, color="#222")))

fig.update_layout(width=883, height=1176,
                  margin=dict(l=68, r=20, t=7, b=55),
                  paper_bgcolor="white", plot_bgcolor="white",
                  font=dict(family=FONT, color="#222"),
                  annotations=annotations, showlegend=False)

fig.write_html("out.html")
